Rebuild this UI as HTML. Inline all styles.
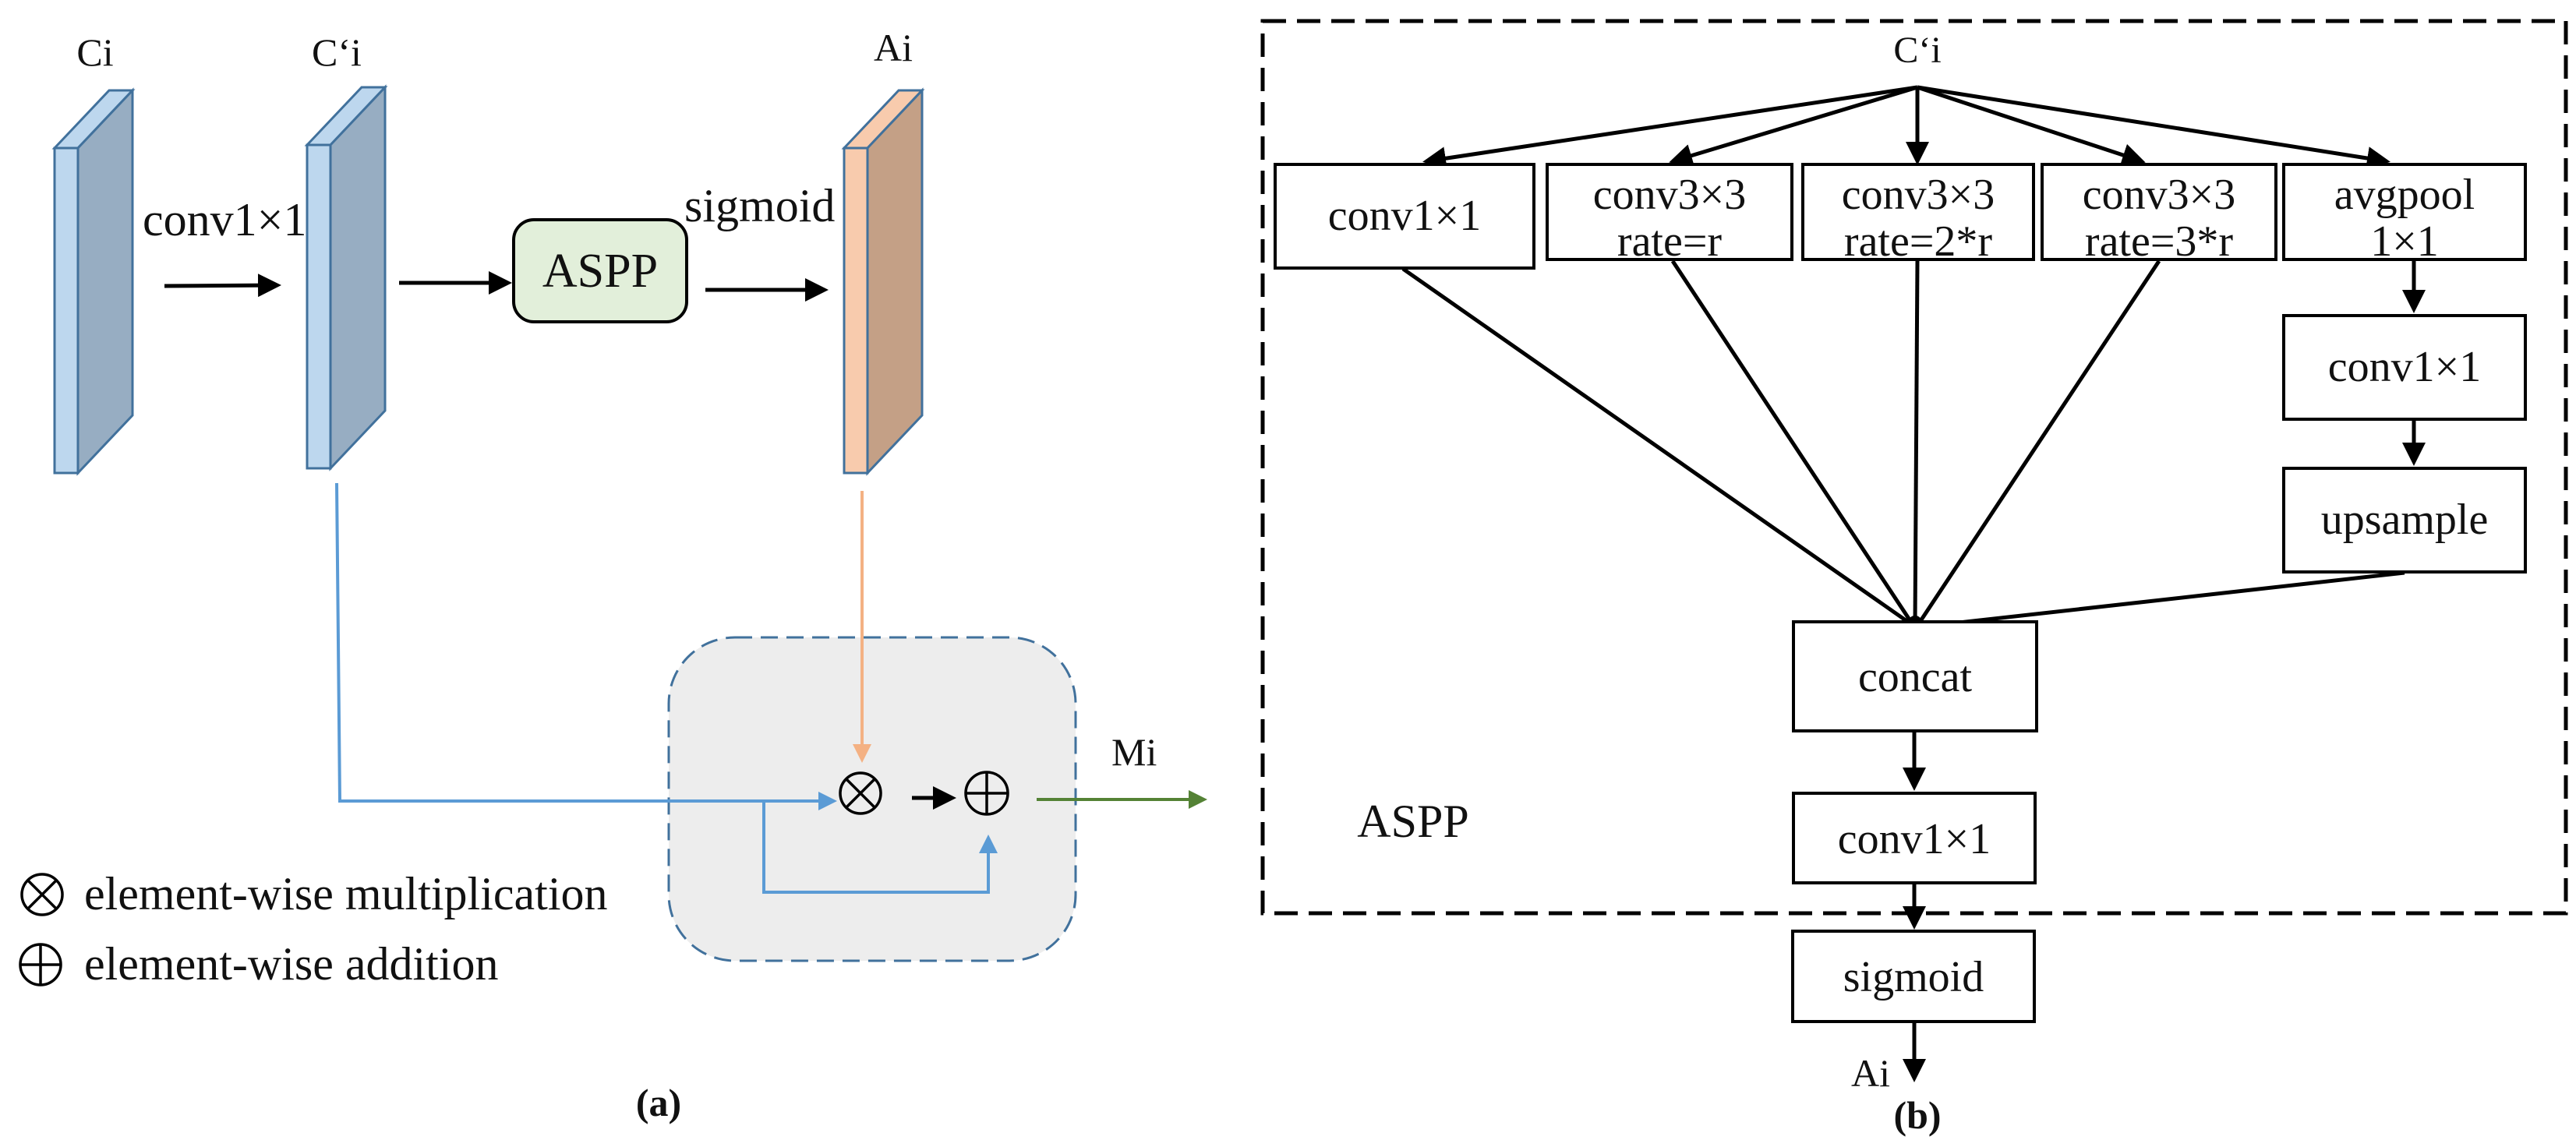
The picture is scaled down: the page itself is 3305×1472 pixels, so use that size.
<!DOCTYPE html>
<html><head><meta charset="utf-8"><style>
html,body{margin:0;padding:0;background:#fff}
svg{display:block}
text{font-family:"Liberation Serif",serif;fill:#111}
</style></head><body>
<svg width="3305" height="1472" viewBox="0 0 3305 1472" xmlns="http://www.w3.org/2000/svg" font-family="Liberation Serif, serif">
<defs>
<marker id="ab" markerWidth="6" markerHeight="6" refX="5" refY="3" orient="auto" markerUnits="strokeWidth"><path d="M0,0 L6,3 L0,6 z" fill="#000"/></marker>
<marker id="abl" markerWidth="6" markerHeight="6" refX="5" refY="3" orient="auto" markerUnits="strokeWidth"><path d="M0,0 L6,3 L0,6 z" fill="#5b9bd5"/></marker>
<marker id="aor" markerWidth="6" markerHeight="6" refX="5" refY="3" orient="auto" markerUnits="strokeWidth"><path d="M0,0 L6,3 L0,6 z" fill="#f4b183"/></marker>
<marker id="agr" markerWidth="6" markerHeight="6" refX="5" refY="3" orient="auto" markerUnits="strokeWidth"><path d="M0,0 L6,3 L0,6 z" fill="#548235"/></marker>
</defs>

<g stroke="#41719c" stroke-width="3">
<polygon points="70,190 140,116 170,116 100,190" fill="#bdd7ee"/>
<polygon points="100,190 170,116 170,533 100,607" fill="#97adc2"/>
<rect x="70" y="190" width="30" height="417" fill="#bdd7ee"/>

<polygon points="394,186 464,112 494,112 424,186" fill="#bdd7ee"/>
<polygon points="424,186 494,112 494,527 424,601" fill="#97adc2"/>
<rect x="394" y="186" width="30" height="415" fill="#bdd7ee"/>

<polygon points="1083,190 1153,116 1183,116 1113,190" fill="#f8cbad"/>
<polygon points="1113,190 1183,116 1183,533 1113,607" fill="#c4a086"/>
<rect x="1083" y="190" width="30" height="417" fill="#f8cbad"/>
</g>
<text x="122" y="84" font-size="50" text-anchor="middle">Ci</text>
<text x="432" y="84" font-size="50" text-anchor="middle">C‘i</text>
<text x="1146" y="78" font-size="50" text-anchor="middle">Ai</text>

<text x="183" y="302" font-size="60">conv1×1</text>
<line x1="211" y1="367" x2="356" y2="366" stroke="#000" stroke-width="5" marker-end="url(#ab)"/>
<line x1="512" y1="363" x2="652" y2="363" stroke="#000" stroke-width="5" marker-end="url(#ab)"/>
<rect x="659" y="282" width="222" height="131" rx="26" fill="#e2efda" stroke="#000" stroke-width="4"/>
<text x="770" y="368" font-size="62" text-anchor="middle">ASPP</text>
<text x="878" y="284" font-size="60">sigmoid</text>
<line x1="905" y1="372" x2="1058" y2="372" stroke="#000" stroke-width="5" marker-end="url(#ab)"/>

<rect x="858" y="818" width="522" height="415" rx="85" fill="#ededed" stroke="#41719c" stroke-width="3" stroke-dasharray="22,11"/>

<polyline points="432,620 436,1028 1070,1028" fill="none" stroke="#5b9bd5" stroke-width="4" marker-end="url(#abl)"/>
<polyline points="980,1028 980,1145 1268,1145 1268,1075" fill="none" stroke="#5b9bd5" stroke-width="4" marker-end="url(#abl)"/>
<line x1="1106" y1="630" x2="1106" y2="975" stroke="#f4b183" stroke-width="4" marker-end="url(#aor)"/>
<line x1="1170" y1="1024" x2="1222" y2="1024" stroke="#000" stroke-width="5" marker-end="url(#ab)"/>
<line x1="1330" y1="1026" x2="1545" y2="1026" stroke="#548235" stroke-width="4" marker-end="url(#agr)"/>
<text x="1426" y="982" font-size="50">Mi</text>

<g stroke="#000" stroke-width="3.5" fill="none">
<circle cx="1104" cy="1018" r="26"/>
<line x1="1086" y1="1000" x2="1122" y2="1036"/><line x1="1122" y1="1000" x2="1086" y2="1036"/>
<circle cx="1266" cy="1018" r="27"/>
<line x1="1239" y1="1018" x2="1293" y2="1018"/><line x1="1266" y1="991" x2="1266" y2="1045"/>
<circle cx="54" cy="1148" r="26"/>
<line x1="36" y1="1130" x2="72" y2="1166"/><line x1="72" y1="1130" x2="36" y2="1166"/>
<circle cx="52" cy="1238" r="26"/>
<line x1="26" y1="1238" x2="78" y2="1238"/><line x1="52" y1="1212" x2="52" y2="1264"/>
</g>
<text x="108" y="1167" font-size="60">element-wise multiplication</text>
<text x="108" y="1257" font-size="60">element-wise addition</text>
<text x="845" y="1432" font-size="50" font-weight="bold" text-anchor="middle">(a)</text>

<rect x="1620" y="27" width="1672" height="1145" fill="none" stroke="#000" stroke-width="5" stroke-dasharray="30,14"/>
<text x="2460" y="80" font-size="48" text-anchor="middle">C‘i</text>
<g stroke="#000" stroke-width="5" fill="none">
<line x1="2460" y1="112" x2="1830" y2="207" marker-end="url(#ab)"/>
<line x1="2460" y1="112" x2="2146" y2="207" marker-end="url(#ab)"/>
<line x1="2460" y1="112" x2="2460" y2="207" marker-end="url(#ab)"/>
<line x1="2460" y1="112" x2="2748" y2="207" marker-end="url(#ab)"/>
<line x1="2460" y1="112" x2="3062" y2="207" marker-end="url(#ab)"/>
<line x1="1800" y1="345" x2="2455" y2="803"/>
<line x1="2146" y1="335" x2="2455" y2="803"/>
<line x1="2460" y1="335" x2="2457" y2="803"/>
<line x1="2770" y1="335" x2="2460" y2="803"/>
<line x1="3085" y1="735" x2="2460" y2="805"/>
<line x1="3097" y1="335" x2="3097" y2="397" marker-end="url(#ab)"/>
<line x1="3097" y1="538" x2="3097" y2="593" marker-end="url(#ab)"/>
<line x1="2456" y1="940" x2="2456" y2="1010" marker-end="url(#ab)"/>
<line x1="2456" y1="1133" x2="2456" y2="1188" marker-end="url(#ab)"/>
<line x1="2456" y1="1312" x2="2456" y2="1384" marker-end="url(#ab)"/>
</g>
<circle cx="2457" cy="799" r="9" fill="#000"/>
<g fill="#fff" stroke="#000" stroke-width="4">
<rect x="1636" y="211" width="332" height="133"/>
<rect x="1985" y="211" width="314" height="122"/>
<rect x="2313" y="211" width="296" height="122"/>
<rect x="2620" y="211" width="300" height="122"/>
<rect x="2930" y="211" width="310" height="122"/>
<rect x="2930" y="405" width="310" height="133"/>
<rect x="2930" y="601" width="310" height="133"/>
<rect x="2301" y="798" width="312" height="140"/>
<rect x="2301" y="1018" width="310" height="115"/>
<rect x="2300" y="1195" width="310" height="116"/>
</g>
<g font-size="56" text-anchor="middle">
<text x="1802" y="295">conv1×1</text>
<text x="2142" y="268">conv3×3</text><text x="2142" y="328">rate=r</text>
<text x="2461" y="268">conv3×3</text><text x="2461" y="328">rate=2*r</text>
<text x="2770" y="268">conv3×3</text><text x="2770" y="328">rate=3*r</text>
<text x="3085" y="268">avgpool</text><text x="3085" y="328">1×1</text>
<text x="3085" y="489">conv1×1</text>
<text x="3085" y="685">upsample</text>
<text x="2457" y="887">concat</text>
<text x="2456" y="1095">conv1×1</text>
<text x="2455" y="1272">sigmoid</text>
</g>
<text x="1813" y="1074" font-size="60" text-anchor="middle">ASPP</text>
<text x="2400" y="1394" font-size="50" text-anchor="middle">Ai</text>
<text x="2460" y="1448" font-size="50" font-weight="bold" text-anchor="middle">(b)</text>
</svg>
</body></html>
